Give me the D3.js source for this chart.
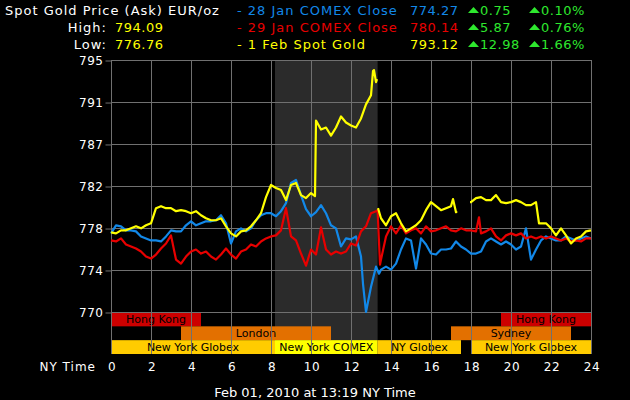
<!DOCTYPE html>
<html lang="en">
<head>
    <meta charset="UTF-8">
    <title>Spot Gold Price (Ask) EUR/oz</title>
    <script src="https://d3js.org/d3.v7.min.js"></script>
    <style>
        body {
            margin: 0;
            background: #000;
        }

        text {
            font-family: "DejaVu Sans", Verdana, sans-serif;
        }

        .axis text {
            fill: #fff;
            font-size: 12px;
            letter-spacing: 0.5px;
        }

        .axis line {
            stroke: #707070;
        }

        .grid line {
            stroke: #707070;
            stroke-width: 1;
        }

        .session text {
            fill: #000;
            font-size: 11px;
        }

        .word {
            letter-spacing: 1px;
        }

        .num {
            letter-spacing: 0.5px;
        }
    </style>
</head>
<body>
    <div id="chart"></div>
    <script>
        // [hour, price] pairs. null = no data
        const jan28Close = [
            [0, 777.8], [0.25, 778.6], [0.5, 778.5], [0.75, 778.1], [1, 778.1], [1.25, 778.0], [1.5, 777.5], [1.75, 777.3],
            [2, 777.1], [2.25, 777.1], [2.5, 777.0], [2.75, 777.5], [3, 778.1], [3.25, 778.0], [3.5, 778.0], [3.75, 778.6],
            [4, 779.0], [4.25, 778.6], [4.5, 778.8], [4.75, 779.0], [5, 779.0], [5.25, 779.1], [5.5, 779.6], [5.75, 778.8],
            [6, 776.8], [6.25, 778.0], [6.5, 778.3], [6.75, 778.0], [7, 778.3], [7.25, 779.1], [7.5, 779.6], [7.75, 779.8],
            [8, 779.8], [8.25, 779.5], [8.5, 780.0], [8.75, 780.8], [9, 782.8], [9.25, 783.1], [9.5, 781.6], [9.75, 780.2],
            [10, 779.5], [10.25, 779.9], [10.5, 780.6], [10.75, 779.8], [11, 778.6], [11.25, 778.3], [11.5, 776.5], [11.75, 777.3],
            [12, 777.2], [12.25, 777.5], [12.5, 775.5], [12.6, 772.8], [12.75, 770.0], [13, 772.5], [13.25, 774.5], [13.4, 773.8],
            [13.5, 774.2], [13.75, 774.5], [14, 774.2], [14.25, 774.8], [14.5, 776.2], [14.75, 777.3], [15, 777.1], [15.25, 774.3],
            [15.5, 777.3], [15.75, 776.7], [16, 775.8], [16.25, 775.7], [16.5, 776.2], [16.75, 776.2], [17, 776.3], [17.25, 777.0],
            [17.5, 776.5], [17.75, 776.2], [18, 775.8], [18.25, 775.8], [18.5, 776.0], [18.75, 777.0], [19, 777.3], [19.25, 777.0],
            [19.5, 776.7], [19.75, 777.0], [20, 776.7], [20.25, 776.2], [20.5, 776.5], [20.75, 778.3], [21, 775.2], [21.25, 776.2],
            [21.5, 777.1], [21.75, 777.5], [22, 777.3], [22.25, 777.1], [22.5, 777.1], [22.75, 777.5], [23, 777.3], [23.25, 777.1],
            [23.5, 777.3], [23.75, 777.5], [24, 777.3]
        ];

        const jan29Close = [
            [0, 777.1], [0.25, 777.0], [0.5, 777.3], [0.75, 776.7], [1, 776.5], [1.25, 776.3], [1.5, 776.0], [1.75, 775.5],
            [2, 775.3], [2.25, 775.7], [2.5, 776.3], [2.75, 776.8], [3, 777.6], [3.25, 775.2], [3.5, 774.8], [3.75, 775.5],
            [4, 776.0], [4.25, 776.2], [4.5, 775.8], [4.75, 776.0], [5, 775.5], [5.25, 775.2], [5.5, 775.7], [5.75, 776.3],
            [6, 775.7], [6.25, 775.3], [6.5, 776.0], [6.75, 776.2], [7, 776.7], [7.25, 776.5], [7.5, 777.0], [7.75, 777.3],
            [8, 777.5], [8.25, 777.6], [8.5, 778.1], [8.75, 780.3], [9, 777.5], [9.25, 777.1], [9.5, 775.8], [9.75, 774.6],
            [10, 776.2], [10.25, 775.7], [10.5, 778.4], [10.75, 776.2], [11, 775.7], [11.25, 776.0], [11.5, 775.8], [11.75, 776.0],
            [12, 776.8], [12.25, 776.6], [12.5, 778.0], [12.75, 778.5], [13, 779.8], [13.25, 780.0], [13.33, 780.1], [13.45, 774.7],
            [13.5, 775.2], [13.75, 777.5], [14, 778.5], [14.25, 777.8], [14.5, 778.6], [14.75, 777.8], [15, 778.1], [15.25, 778.3],
            [15.5, 777.8], [15.75, 778.5], [16, 778.0], [16.25, 778.1], [16.5, 778.3], [16.75, 778.5], [17, 778.1], [17.25, 778.0],
            [17.5, 778.3], [17.75, 778.1], [18, 778.1], [18.25, 778.0], [18.4, 779.4], [18.5, 777.8], [18.75, 778.0], [19, 778.3],
            [19.25, 777.5], [19.5, 777.1], [19.75, 777.6], [20, 777.8], [20.25, 777.6], [20.5, 777.8], [20.75, 777.3], [21, 777.5],
            [21.25, 777.3], [21.5, 777.5], [21.75, 777.3], [22, 777.5], [22.25, 777.3], [22.5, 777.1], [22.75, 777.3], [23, 777.0],
            [23.25, 777.1], [23.5, 777.0], [23.75, 777.3], [24, 777.3]
        ];

        const feb1Spot = [
            [0, 777.9], [0.25, 777.8], [0.5, 778.1], [0.75, 778.1], [1, 778.3], [1.25, 778.5], [1.5, 778.3], [1.75, 778.6],
            [2, 778.8], [2.25, 780.3], [2.5, 780.5], [2.75, 780.3], [3, 780.3], [3.25, 780.0], [3.5, 780.1], [3.75, 780.0],
            [4, 779.8], [4.25, 780.0], [4.5, 779.6], [4.75, 779.3], [5, 779.1], [5.25, 779.1], [5.5, 779.3], [5.75, 778.5],
            [6, 777.8], [6.25, 777.5], [6.5, 778.0], [6.75, 778.1], [7, 778.5], [7.25, 779.1], [7.5, 779.8], [7.75, 781.4],
            [8, 782.6], [8.25, 782.3], [8.5, 782.1], [8.75, 781.1], [9, 782.6], [9.25, 782.8], [9.5, 781.6], [9.75, 781.3],
            [10, 781.8], [10.2, 781.5], [10.25, 789.0], [10.5, 788.1], [10.75, 788.3], [11, 787.5], [11.25, 788.3], [11.5, 789.4],
            [11.75, 788.8], [12, 788.5], [12.25, 788.3], [12.5, 789.2], [12.75, 790.6], [13, 791.5], [13.1, 793.9], [13.15, 794.0],
            [13.25, 792.8], [13.3, 793.1], [13.32, null],
            [13.35, 780.3], [13.5, 779.3], [13.75, 778.6], [14, 779.5], [14.25, 779.8], [14.5, 778.8], [14.75, 778.0], [15, 778.3],
            [15.25, 778.6], [15.5, 779.1], [15.75, 780.1], [16, 780.9], [16.25, 780.5], [16.5, 780.1], [16.75, 780.3], [17, 780.5],
            [17.1, 781.2], [17.25, 779.9], [17.3, 780.0], [17.6, null],
            [17.95, 780.9], [18, 780.9], [18.25, 781.3], [18.5, 781.4], [18.75, 781.1], [19, 781.1], [19.25, 781.6], [19.5, 780.9],
            [19.75, 780.8], [20, 780.9], [20.25, 781.1], [20.5, 780.9], [20.75, 780.6], [21, 780.6], [21.25, 780.9], [21.4, 778.8],
            [21.5, 778.8], [21.75, 778.8], [22, 778.3], [22.25, 777.6], [22.5, 778.3], [22.75, 777.6], [23, 776.8], [23.25, 777.3],
            [23.5, 777.5], [23.75, 778.0], [24, 778.1]
        ];

        const yTicks = [770, 774.17, 778.33, 782.5, 786.67, 790.83, 795];
        const yTickLabels = ["770", "774", "778", "782", "787", "791", "795"];
        const xTicks = [0, 2, 4, 6, 8, 10, 12, 14, 16, 18, 20, 22, 24];

        const comexHours = [8.2, 13.33];

        // trading sessions: row 0 = Asia, row 1 = Europe/Sydney, row 2 = New York
        const sessions = [
            { name: "Hong Kong", start: 0, end: 4.5, row: 0, color: "#cc0000" },
            { name: "Hong Kong", start: 19.5, end: 24, row: 0, color: "#cc0000" },
            { name: "London", start: 3.5, end: 11, row: 1, color: "#e37000" },
            { name: "Sydney", start: 17, end: 23, row: 1, color: "#e37000" },
            { name: "New York Globex", start: 0, end: 8.2, row: 2, color: "#ffcc00" },
            { name: "New York COMEX", start: 8.2, end: 13.33, row: 2, color: "#ffff00" },
            { name: "NY Globex", start: 13.33, end: 17.5, row: 2, color: "#ffcc00" },
            { name: "New York Globex", start: 18, end: 24, row: 2, color: "#ffcc00" }
        ];

        const legend = [
            { label: "- 28 Jan COMEX Close", price: "774.27", change: "0.75", pct: "0.10%", color: "#1288e8", data: jan28Close },
            { label: "- 29 Jan COMEX Close", price: "780.14", change: "5.87", pct: "0.76%", color: "#e80000", data: jan29Close },
            { label: "- 1 Feb Spot Gold", price: "793.12", change: "12.98", pct: "1.66%", color: "#ffff00", data: feb1Spot }
        ];

        const highLow = [["High:", "794.09"], ["Low:", "776.76"]];

        const W = 630, H = 400;
        const plot = { left: 111, right: 591, top: 60, bottom: 312, sessBottom: 354 };

        const svg = d3.select("#chart")
            .append("svg")
            .attr("width", W)
            .attr("height", H);

        const x = d3.scaleLinear().domain([0, 24]).range([plot.left, plot.right]);
        const y = d3.scaleLinear().domain([770, 795]).range([plot.bottom, plot.top]);
        const row = d3.scaleBand().domain([0, 1, 2]).range([plot.bottom + 0.5, plot.sessBottom]);

        // COMEX shaded hours
        svg.append("rect")
            .attr("x", x(comexHours[0]))
            .attr("y", plot.top)
            .attr("width", x(comexHours[1]) - x(comexHours[0]))
            .attr("height", plot.sessBottom - plot.top)
            .attr("fill", "#2b2b2b");

        // session bars
        const sess = svg.append("g").attr("class", "session");
        sess.selectAll("rect")
            .data(sessions)
            .enter()
            .append("rect")
            .attr("x", d => x(d.start))
            .attr("y", d => row(d.row))
            .attr("width", d => x(d.end) - x(d.start))
            .attr("height", row.bandwidth())
            .attr("fill", d => d.color);
        sess.selectAll("text")
            .data(sessions)
            .enter()
            .append("text")
            .attr("x", d => x((d.start + d.end) / 2))
            .attr("y", d => row(d.row) + row.bandwidth() / 2)
            .attr("dy", "0.36em")
            .attr("text-anchor", "middle")
            .text(d => d.name);

        // grid
        const grid = svg.append("g").attr("class", "grid");
        grid.selectAll(".h")
            .data(yTicks)
            .enter()
            .append("line")
            .attr("x1", plot.left)
            .attr("x2", plot.right)
            .attr("y1", d => Math.round(y(d)) + 0.5)
            .attr("y2", d => Math.round(y(d)) + 0.5);
        grid.selectAll(".v")
            .data(xTicks)
            .enter()
            .append("line")
            .attr("x1", d => Math.round(x(d)) + 0.5)
            .attr("x2", d => Math.round(x(d)) + 0.5)
            .attr("y1", plot.top)
            .attr("y2", plot.sessBottom);

        // axes
        const yAxis = svg.append("g")
            .attr("class", "axis")
            .attr("transform", `translate(${plot.left + 0.5},0.5)`)
            .call(d3.axisLeft(y).tickValues(yTicks).tickFormat((d, i) => yTickLabels[i]).tickSize(6).tickPadding(2));
        yAxis.select(".domain").remove();

        const xAxis = svg.append("g")
            .attr("class", "axis")
            .attr("transform", `translate(0.5,${plot.sessBottom})`)
            .call(d3.axisBottom(x).tickValues(xTicks).tickSize(0).tickPadding(8));
        xAxis.select(".domain").remove();

        svg.append("text")
            .attr("class", "word")
            .attr("x", 96)
            .attr("y", plot.sessBottom + 8)
            .attr("dy", "0.71em")
            .attr("text-anchor", "end")
            .attr("fill", "#fff")
            .attr("font-size", 12)
            .text("NY Time");

        // price lines
        const line = d3.line()
            .defined(d => d[1] !== null)
            .x(d => x(d[0]))
            .y(d => y(d[1]));

        svg.append("g")
            .selectAll("path")
            .data(legend)
            .enter()
            .append("path")
            .attr("d", d => line(d.data))
            .attr("fill", "none")
            .attr("stroke", d => d.color)
            .attr("stroke-width", 2.2)
            .attr("stroke-linejoin", "round");

        // header
        svg.append("text")
            .attr("class", "word")
            .attr("x", 5)
            .attr("y", 15)
            .attr("fill", "#fff")
            .attr("font-size", 13)
            .text("Spot Gold Price (Ask) EUR/oz");

        highLow.forEach((d, i) => {
            svg.append("text")
                .attr("class", "word")
                .attr("x", 107)
                .attr("y", 32 + i * 17)
                .attr("text-anchor", "end")
                .attr("fill", "#fff")
                .attr("font-size", 13)
                .text(d[0]);
            svg.append("text")
                .attr("class", "num")
                .attr("x", 115)
                .attr("y", 32 + i * 17)
                .attr("fill", "#ffff00")
                .attr("font-size", 13)
                .text(d[1]);
        });

        const lg = svg.append("g")
            .selectAll("g")
            .data(legend)
            .enter()
            .append("g")
            .attr("transform", (d, i) => `translate(0,${15 + i * 17})`)
            .attr("font-size", 13);
        lg.append("text").attr("class", "word").attr("x", 237).attr("fill", d => d.color).text(d => d.label);
        lg.append("text").attr("class", "num").attr("x", 410).attr("fill", d => d.color).text(d => d.price);
        [[468, "change"], [529, "pct"]].forEach(([px, key]) => {
            lg.append("path")
                .attr("d", `M${px},-2L${px + 11},-2L${px + 5.5},-8Z`)
                .attr("fill", "#2ee82e");
            lg.append("text")
                .attr("class", "num")
                .attr("x", px + 12)
                .attr("fill", "#2ee82e")
                .text(d => d[key]);
        });

        svg.append("text")
            .attr("x", W / 2)
            .attr("y", 397)
            .attr("text-anchor", "middle")
            .attr("fill", "#fff")
            .attr("font-size", 13)
            .text("Feb 01, 2010 at 13:19 NY Time");
    </script>
</body>
</html>
